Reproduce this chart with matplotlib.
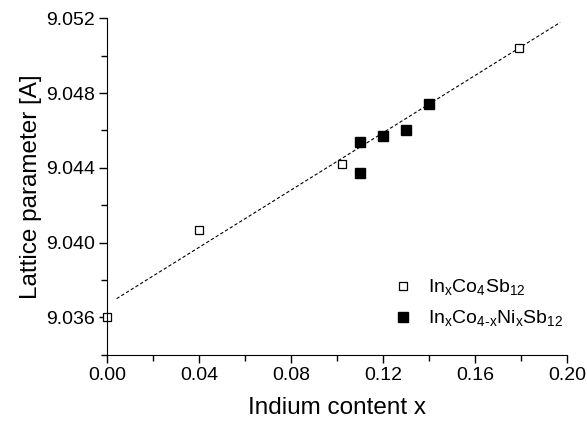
import numpy as np
import matplotlib.pyplot as plt
from matplotlib.ticker import MultipleLocator

plt.rcParams['font.family'] = ['Liberation Sans', 'DejaVu Sans']
plt.rcParams['mathtext.fontset'] = 'custom'
plt.rcParams['mathtext.rm'] = 'Liberation Sans'

# InxCo4Sb12 (open squares)
x_co = [0.0, 0.04, 0.102, 0.179]
y_co = [9.0360, 9.0407, 9.0442, 9.0504]

# InxCo4-xNixSb12 (filled squares)
x_ni = [0.11, 0.11, 0.12, 0.13, 0.14]
y_ni = [9.0454, 9.0437, 9.0457, 9.0460, 9.0474]

# linear fit
fit_slope = 0.0765
fit_intercept = 9.0367
fit_x = np.array([0.004, 0.197])

fig, ax = plt.subplots(figsize=(5.87, 4.23), dpi=100)
fig.subplots_adjust(left=0.183, right=0.966, top=0.957, bottom=0.161)

ax.plot(fit_x, fit_intercept + fit_slope * fit_x, ls=(0, (3, 2)), color='black', lw=0.8)
ax.plot(x_co, y_co, 's', mfc='white', mec='black', mew=0.9, ms=5.5,
        label=r'In$_\mathregular{x}$Co$_\mathregular{4}$Sb$_\mathregular{12}$', clip_on=False)
ax.plot(x_ni, y_ni, 's', color='black', ms=6.5,
        label=r'In$_\mathregular{x}$Co$_\mathregular{4\text{-}x}$Ni$_\mathregular{x}$Sb$_\mathregular{12}$')

ax.set_xlim(0, 0.20)
ax.set_ylim(9.034, 9.052)
ax.xaxis.set_minor_locator(MultipleLocator(0.02))
ax.yaxis.set_minor_locator(MultipleLocator(0.002))
yt = np.arange(9.036, 9.0521, 0.004)
ax.set_yticks(yt)
ax.set_yticklabels([f'{v:.3f}' for v in yt])
xt = np.arange(0, 0.201, 0.04)
ax.set_xticks(xt)
ax.set_xticklabels([f'{v:.2f}' for v in xt])

ax.spines['top'].set_visible(False)
ax.spines['right'].set_visible(False)
ax.tick_params(which='major', direction='out', length=6, width=1, labelsize=14, pad=3)
ax.tick_params(which='minor', direction='out', length=4, width=1)

ax.set_xlabel('Indium content x', fontsize=17.5, labelpad=9)
ax.set_ylabel('Lattice parameter [A]', fontsize=17.5, labelpad=3)

ax.legend(loc='lower right', bbox_to_anchor=(1.03, 0.025), frameon=False, fontsize=14,
          handletextpad=0.7, labelspacing=0.55, handlelength=1.2)

plt.savefig('out.png', dpi=100)
